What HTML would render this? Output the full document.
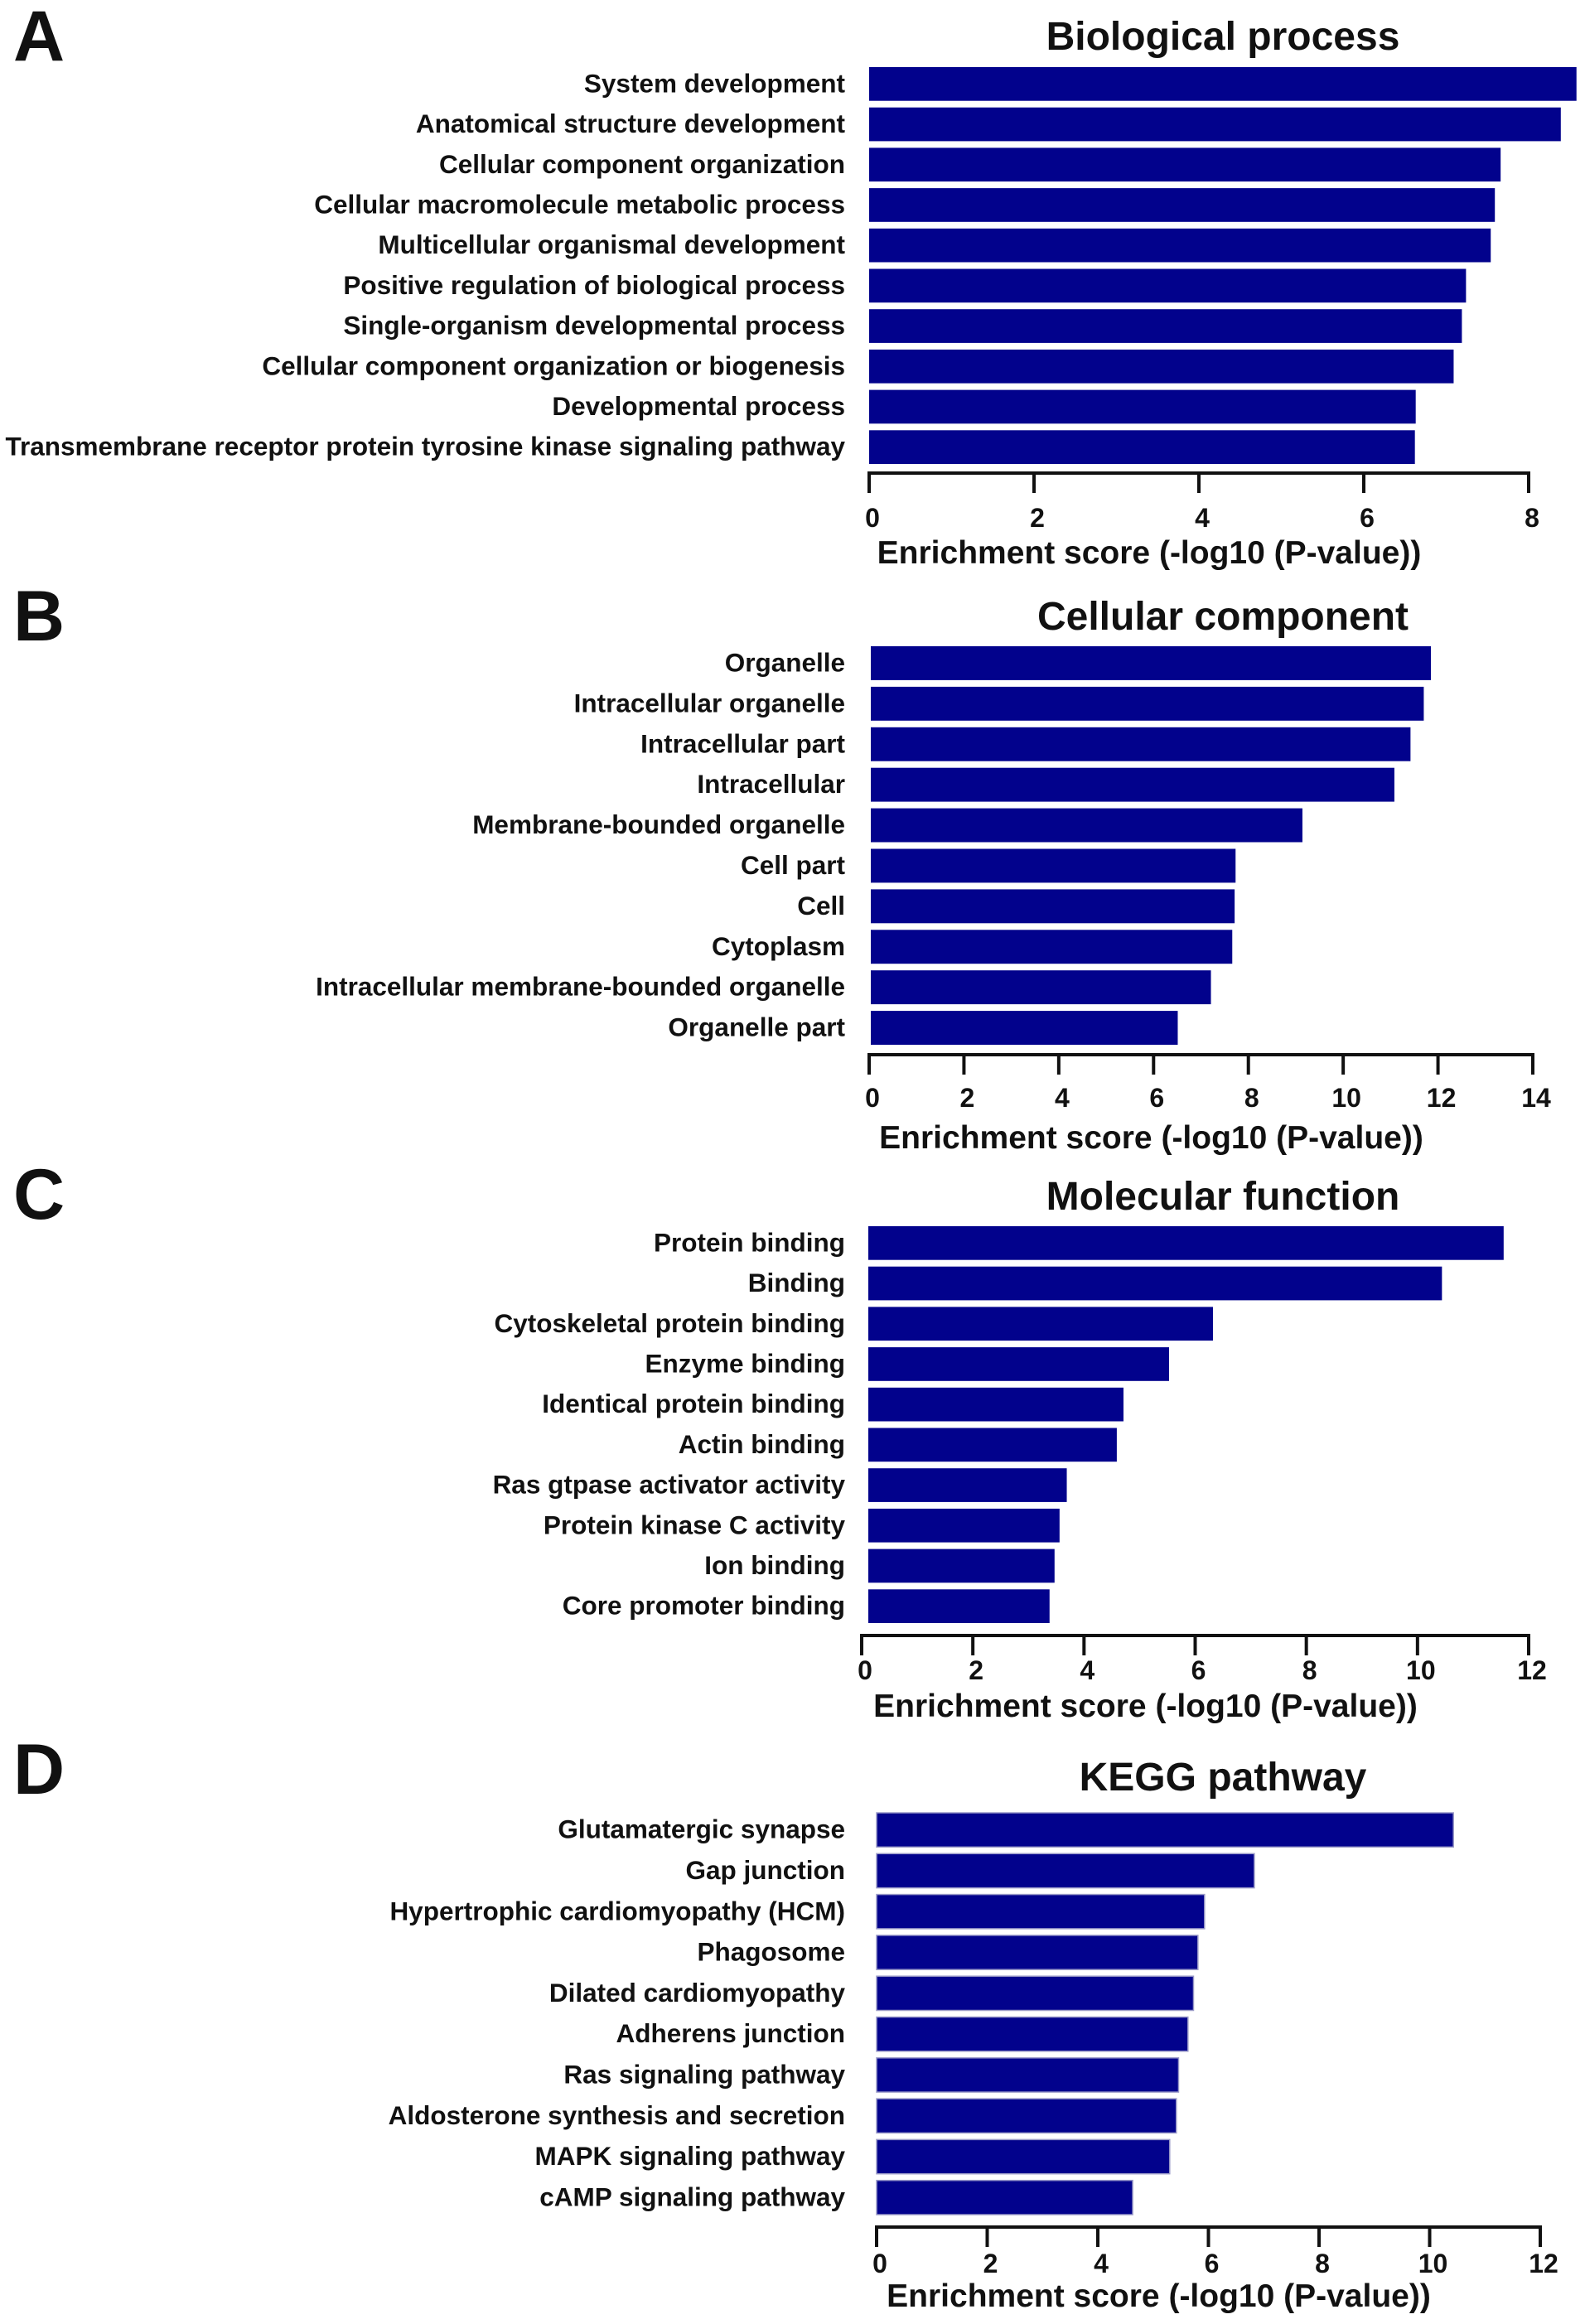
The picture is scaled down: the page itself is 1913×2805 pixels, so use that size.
<!DOCTYPE html>
<html><head><meta charset="utf-8"><style>
html,body{margin:0;padding:0;background:#fff}
svg{display:block}
text{font-family:"Liberation Sans",Arial,sans-serif;font-weight:bold;fill:#111}
</style></head><body>
<svg id="fig" width="1913" height="2805" viewBox="0 0 1913 2805" xmlns="http://www.w3.org/2000/svg"></svg>
<script>
const catsA = ["System development","Anatomical structure development","Cellular component organization","Cellular macromolecule metabolic process","Multicellular organismal development","Positive regulation of biological process","Single-organism developmental process","Cellular component organization or biogenesis","Developmental process","Transmembrane receptor protein tyrosine kinase signaling pathway"];
const valsA = [8.58,8.39,7.66,7.59,7.54,7.24,7.19,7.09,6.63,6.62];
const ticksA = [0,2,4,6,8];
const catsB = ["Organelle","Intracellular organelle","Intracellular part","Intracellular","Membrane-bounded organelle","Cell part","Cell","Cytoplasm","Intracellular membrane-bounded organelle","Organelle part"];
const valsB = [11.85,11.7,11.42,11.08,9.14,7.73,7.71,7.66,7.21,6.51];
const ticksB = [0,2,4,6,8,10,12,14];
const catsC = ["Protein binding","Binding","Cytoskeletal protein binding","Enzyme binding","Identical protein binding","Actin binding","Ras gtpase activator activity","Protein kinase C activity","Ion binding","Core promoter binding"];
const valsC = [11.55,10.44,6.32,5.53,4.71,4.59,3.69,3.56,3.47,3.38];
const ticksC = [0,2,4,6,8,10,12];
const catsD = ["Glutamatergic synapse","Gap junction","Hypertrophic cardiomyopathy (HCM)","Phagosome","Dilated cardiomyopathy","Adherens junction","Ras signaling pathway","Aldosterone synthesis and secretion","MAPK signaling pathway","cAMP signaling pathway"];
const valsD = [10.43,6.83,5.93,5.81,5.73,5.63,5.46,5.42,5.3,4.63];
const ticksD = [0,2,4,6,8,10,12];

const NS="http://www.w3.org/2000/svg";
const svg=document.getElementById('fig');
function mk(tag,attrs,parent){const e=document.createElementNS(NS,tag);for(const k in attrs)e.setAttribute(k,attrs[k]);(parent||svg).appendChild(e);return e;}

const panels=[
 {id:'a',letter:'A',ly:73,title:'Biological process',ty:60,cats:catsA,vals:valsA,ticks:ticksA,x0:1049,x1:1845,barStart:1049,top:81,bottom:560,axisY:571,tickLY:634,titleY:680,stroke:false},
 {id:'b',letter:'B',ly:773,title:'Cellular component',ty:760,cats:catsB,vals:valsB,ticks:ticksB,x0:1049,x1:1850,barStart:1051,top:780,bottom:1261,axisY:1273,tickLY:1334,titleY:1386,stroke:false},
 {id:'c',letter:'C',ly:1471,title:'Molecular function',ty:1460,cats:catsC,vals:valsC,ticks:ticksC,x0:1040,x1:1845,barStart:1048,top:1480,bottom:1959,axisY:1974,tickLY:2025,titleY:2072,stroke:false},
 {id:'d',letter:'D',ly:2165,title:'KEGG pathway',ty:2161,cats:catsD,vals:valsD,ticks:ticksD,x0:1058,x1:1859,barStart:1058,top:2188,bottom:2673,axisY:2688,tickLY:2741,titleY:2784,stroke:true}
];

panels.forEach(p=>{
  const g=mk('g',{});
  
  
  const L=mk('text',{x:16,y:p.ly,'font-size':86},g);
  L.textContent=p.letter;
  
  
  const T=mk('text',{x:1476,y:p.ty,'font-size':48,'text-anchor':'middle'},g);
  T.textContent=p.title;
  
  
  const max=p.ticks[p.ticks.length-1];
  const xs=v=>p.x0+(p.x1-p.x0)*v/max;
  const n=p.cats.length, gap=8;
  const pitch=(p.bottom-p.top+gap)/n, bh=pitch-gap;
  p.cats.forEach((c,i)=>{
    const y=p.top+i*pitch;
    const r=mk('rect',{x:p.barStart,y:y,width:Math.max(0,xs(p.vals[i])-p.barStart),height:bh,fill:'#02028c'},g);
    if(p.stroke){r.setAttribute('stroke','#9a9ac8');r.setAttribute('stroke-width','1.5');}
    
    
    const t=mk('text',{x:1020,y:y+bh/2+10,'font-size':31.5,'text-anchor':'end'},g);
    t.textContent=c;
    
    
  });
  const ax=mk('line',{x1:p.x0,x2:p.x1,y1:p.axisY,y2:p.axisY,stroke:'#111','stroke-width':4},g);
  
  
  p.ticks.forEach(tv=>{
    const x=xs(tv);
    const tk=mk('line',{x1:x,x2:x,y1:p.axisY-2,y2:p.axisY+24,stroke:'#111','stroke-width':4},g);
    
    
    const tl=mk('text',{x:x+4,y:p.tickLY+2,'font-size':32,'text-anchor':'middle'},g);
    tl.textContent=tv;
    
    
  });
  const at=mk('text',{x:(p.x0+p.x1)/2-60,y:p.titleY,'font-size':39,'text-anchor':'middle'},g);
  at.textContent='Enrichment score (-log10 (P-value))';
  
  
});
</script>
</body></html>
